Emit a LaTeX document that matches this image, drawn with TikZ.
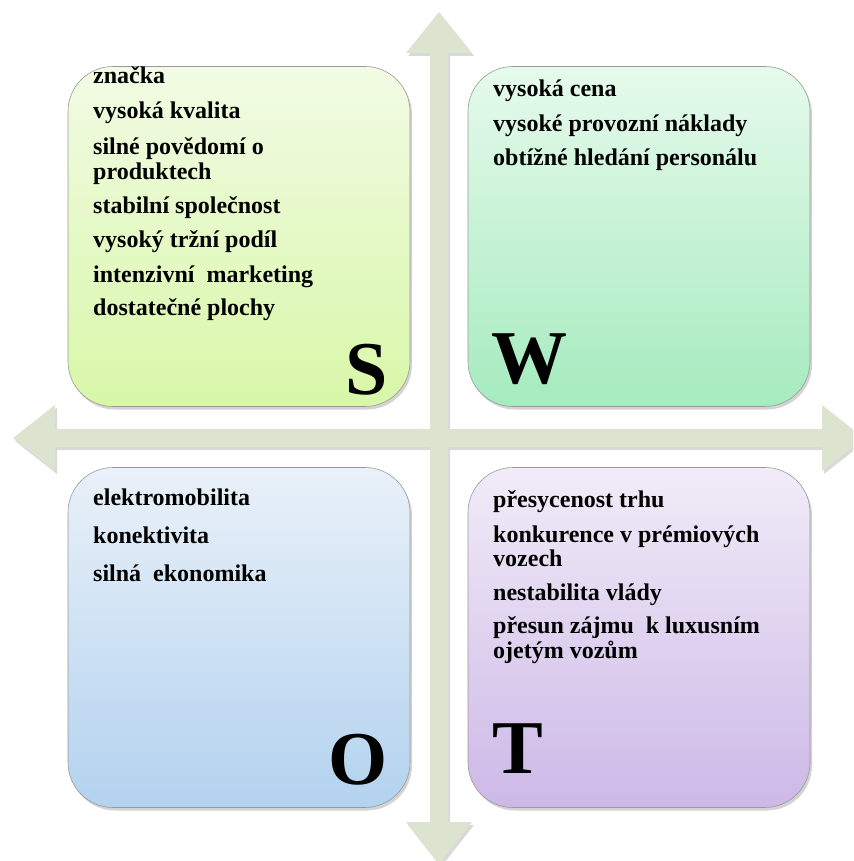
\documentclass[tikz,border=0pt]{standalone}
\usepackage{fontspec}
\setmainfont{Liberation Serif}
\usetikzlibrary{shadows}

\definecolor{crossfill}{HTML}{DCE4D0}
\definecolor{stop}{HTML}{F2FBE4}
\definecolor{sbottom}{HTML}{D8F7A8}
\definecolor{wtop}{HTML}{E6FAEC}
\definecolor{wbottom}{HTML}{A6EBBF}
\definecolor{otop}{HTML}{E9F1F9}
\definecolor{obottom}{HTML}{B3D2EF}
\definecolor{ttop}{HTML}{F1ECF8}
\definecolor{tbottom}{HTML}{CDB8E7}

\begin{document}
\begin{tikzpicture}[x=1pt, y=-1pt]
    \tikzstyle{swot box} = [rounded corners=45pt, draw=gray!80, line width=0.6pt, minimum width=342pt, minimum height=340pt, drop shadow={opacity=0.35, shadow xshift=2pt, shadow yshift=-3pt}]
    \tikzstyle{swot item} = [anchor=base west, inner sep=0pt, font=\fontsize{24}{24}\bfseries\selectfont]
    \tikzstyle{swot letter} = [anchor=base west, inner sep=0pt, font=\fontsize{76}{76}\bfseries\selectfont]
    \tikzstyle{swot cross} = [fill=crossfill, draw=none, drop shadow={opacity=0.3, shadow xshift=2pt, shadow yshift=-3pt}]
\clip (0,0) rectangle (853,861);
% the cross
\fill[swot cross] (439,12) -- (472,53) -- (448,53) -- (448,429) -- (822,429) -- (822,405) -- (864,438) -- (822,471) -- (822,447) -- (448,447) -- (448,822) -- (472,822) -- (439,864) -- (406,822) -- (430,822) -- (430,447) -- (55,447) -- (55,471) -- (13,438) -- (55,405) -- (55,429) -- (430,429) -- (430,53) -- (406,53) -- cycle;
% boxes
\node[swot box, top color=stop, bottom color=sbottom] (Sbox) at (239,236.5) {};
\node[swot box, top color=wtop, bottom color=wbottom] (Wbox) at (639,236.5) {};
\node[swot box, top color=otop, bottom color=obottom] (Obox) at (239,637.5) {};
\node[swot box, top color=ttop, bottom color=tbottom] (Tbox) at (639,637.5) {};
% strengths
\node[swot item] (s1) at (93,84) {značka};
\node[swot item] (s2) at (93,119) {vysoká kvalita};
\node[swot item] (s3) at (93,155) {silné povědomí o};
\node[swot item] (s3b) at (93,179) {produktech};
\node[swot item] (s4) at (93,213) {stabilní společnost};
\node[swot item] (s5) at (93,247) {vysoký tržní podíl};
\node[swot item] (s6) at (93,282) {intenzivní~~marketing};
\node[swot item] (s7) at (93,315) {dostatečné plochy};
\node[swot letter] (Sl) at (345,394) {S};
% weaknesses
\node[swot item] (w1) at (493,97) {vysoká cena};
\node[swot item] (w2) at (493,132) {vysoké provozní náklady};
\node[swot item] (w3) at (493,166) {obtížné hledání personálu};
\node[swot letter] (Wl) at (491,383) {W};
% opportunities
\node[swot item] (o1) at (93,505) {elektromobilita};
\node[swot item] (o2) at (93,543) {konektivita};
\node[swot item] (o3) at (93,581) {silná~~ekonomika};
\node[swot letter] (Ol) at (328,784) {O};
% threats
\node[swot item] (t1) at (493,507) {přesycenost trhu};
\node[swot item] (t2) at (493,542) {konkurence v prémiových};
\node[swot item] (t2b) at (493,566) {vozech};
\node[swot item] (t3) at (493,600) {nestabilita vlády};
\node[swot item] (t4) at (493,633) {přesun zájmu~~k luxusním};
\node[swot item] (t4b) at (493,658) {ojetým vozům};
\node[swot letter] (Tl) at (492,773) {T};
\end{tikzpicture}
\end{document}
